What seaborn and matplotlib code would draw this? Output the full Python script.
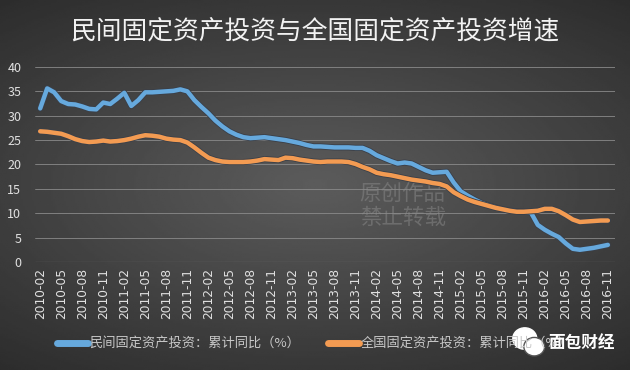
import numpy as np
import pandas as pd
import seaborn as sns
import matplotlib.pyplot as plt
import matplotlib.patheffects as pe
from matplotlib.patches import Ellipse

# monthly cumulative yoy growth, 2010-02 .. 2016-11
months = [str(p) for p in pd.period_range("2010-02", "2016-11", freq="M")]
private_fai = [
    31.5, 35.6, 34.8, 33.0, 32.4, 32.3, 31.9, 31.4, 31.3, 32.7, 32.4,
    33.5, 34.7, 32.0, 33.2, 34.8, 34.8, 34.9, 35.0, 35.1, 35.4, 35.0, 33.2,
    31.8, 30.5, 29.0, 27.8, 26.8, 26.1, 25.6, 25.4, 25.5, 25.6, 25.4, 25.2,
    25.0, 24.7, 24.4, 24.0, 23.7, 23.7, 23.6, 23.5, 23.5, 23.5, 23.4, 23.4,
    22.8, 21.9, 21.3, 20.7, 20.2, 20.4, 20.2, 19.5, 18.8, 18.3, 18.4, 18.5,
    16.3, 14.5, 13.6, 12.8, 12.1, 11.6, 11.2, 10.8, 10.5, 10.4, 10.3, 10.2,
    7.6, 6.6, 5.8, 5.1, 3.8, 2.7, 2.5, 2.7, 2.9, 3.2, 3.5,
]
national_fai = [
    26.8, 26.7, 26.5, 26.3, 25.8, 25.2, 24.8, 24.6, 24.7, 24.9, 24.7,
    24.8, 25.0, 25.3, 25.7, 26.0, 25.9, 25.7, 25.3, 25.1, 25.0, 24.5, 23.5,
    22.4, 21.4, 20.9, 20.6, 20.5, 20.5, 20.5, 20.6, 20.8, 21.1, 21.0, 20.9,
    21.4, 21.3, 21.0, 20.8, 20.6, 20.5, 20.6, 20.6, 20.6, 20.5, 20.1, 19.5,
    19.0, 18.3, 18.0, 17.8, 17.5, 17.2, 16.9, 16.7, 16.5, 16.2, 16.0, 15.5,
    14.3, 13.5, 12.8, 12.3, 11.9, 11.5, 11.1, 10.8, 10.5, 10.3, 10.3, 10.4,
    10.5, 10.9, 10.9, 10.4, 9.6, 8.7, 8.2, 8.3, 8.4, 8.5, 8.5,
]
series_names = ["民间固定资产投资：累计同比（%）", "全国固定资产投资：累计同比（%）"]
colors = ["#66a9dd", "#f39b52"]

df = pd.DataFrame({"idx": range(len(months)), "month": months,
                   series_names[0]: private_fai, series_names[1]: national_fai})
long = df.melt(id_vars=["idx", "month"], var_name="series", value_name="value")

sns.set_style("dark")
plt.rcParams["font.family"] = ["Noto Sans CJK SC", "DejaVu Sans"]

fig = plt.figure(figsize=(6.3, 3.7), dpi=100)

# gradient background
bg = fig.add_axes([0, 0, 1, 1], zorder=-10)
yy, xx = np.mgrid[-1:1:200j, -1:1:340j]
r = np.sqrt((xx * 0.9) ** 2 + (yy * 1.1) ** 2)
bg.imshow(0.36 - 0.13 * r, cmap="gray", vmin=0, vmax=1, aspect="auto",
          extent=[0, 1, 0, 1])
bg.axis("off")

# watermark behind the lines
fig.text(0.571, 0.443, "原创作品\n禁止转载", fontsize=15.5, color="#8a8a8a",
         alpha=0.5, linespacing=1.15, va="center", zorder=-5)

ax = fig.add_axes([0.056, 0.292, 0.92, 0.527])
ax.patch.set_alpha(0)

sns.lineplot(data=long, x="idx", y="value", hue="series", palette=colors,
             linewidth=3.2, ax=ax, legend=False,
             path_effects=[pe.withStroke(linewidth=4.4, foreground="#3a3f48")])

ax.set_xlim(-0.7, 82)
ax.set_ylim(0, 40)
ax.set_yticks(range(0, 41, 5))
ax.set_xticks(range(0, len(months), 3))
ax.set_xticklabels(months[::3], rotation=90, fontsize=8.8, color="#e0e0e0",
                   family="DejaVu Sans")
ax.tick_params(axis="y", labelsize=9, colors="#e0e0e0", length=0, pad=10)
ax.tick_params(axis="x", length=0, pad=4)
ax.grid(axis="y", color="#8a8a8a", linewidth=0.6)
ax.grid(axis="x", visible=False)
ax.set_xlabel("")
ax.set_ylabel("")
for s in ax.spines.values():
    s.set_visible(False)
ax.axhline(0, color="#9a9a9a", linewidth=0.8)

fig.text(0.5, 0.912, "民间固定资产投资与全国固定资产投资增速", ha="center",
         va="center", fontsize=18.5, color="#f2f2f2")

# legend at the bottom
for i, (name, c) in enumerate(zip(series_names, colors)):
    x0 = 0.09 + i * 0.43
    fig.add_artist(plt.Line2D([x0, x0 + 0.05], [0.072, 0.072], color=c,
                              linewidth=5, solid_capstyle="round"))
    fig.text(x0 + 0.052, 0.072, name, fontsize=9.5, color="#c8c8c8", va="center")

# wechat badge
fig.add_artist(Ellipse((0.833, 0.085), 0.038, 0.058, color="white"))
fig.add_artist(Ellipse((0.848, 0.063), 0.033, 0.05, color="white",
                       ec="#555555", lw=1))
fig.text(0.87, 0.072, "面包财经", fontsize=12, color="white", va="center",
         fontweight="bold")

fig.savefig("out.png", dpi=100)
